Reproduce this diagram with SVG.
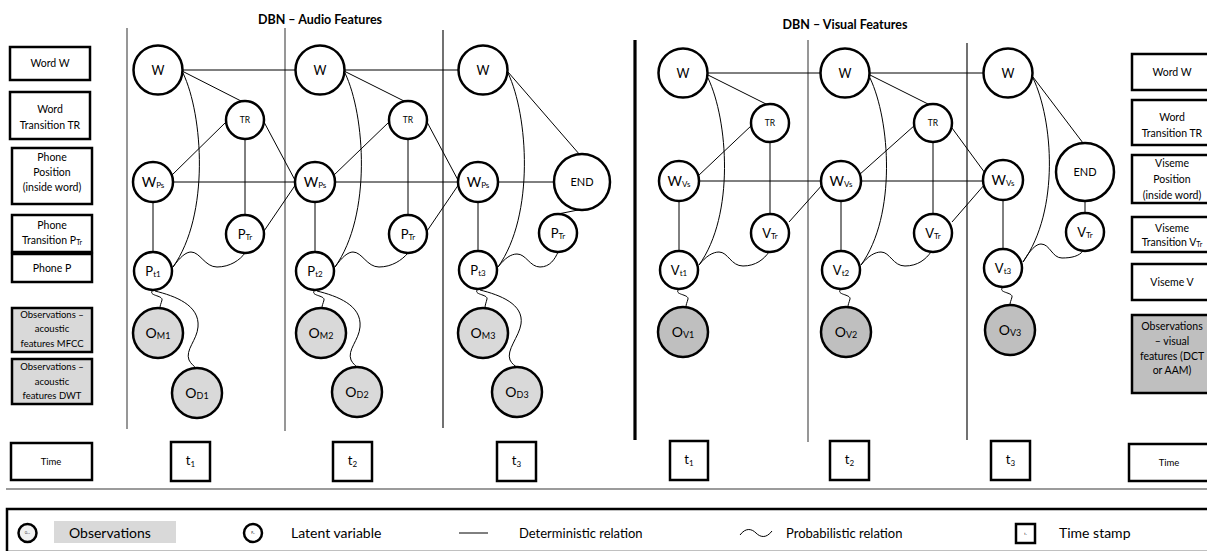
<svg xmlns="http://www.w3.org/2000/svg" width="1207" height="551" viewBox="0 0 1207 551">
  <style>
    text { font-family: Lato, "Liberation Sans", sans-serif; fill: #000; }
    .lbl { font-size: 10.5px; text-anchor: middle; }
    .lbs { font-size: 9.5px; text-anchor: middle; }
    .title { font-size: 12.5px; font-weight: bold; text-anchor: middle; }
    .box { fill: #fff; stroke: #000; stroke-width: 2.5; }
    .gbox { fill: #d9d9d9; stroke: #000; stroke-width: 2.5; }
    .gbox2 { fill: #bfbfbf; stroke: #000; stroke-width: 2.5; }
    .node { fill: #fff; stroke: #000; stroke-width: 2.5; }
    .obs { fill: #d9d9d9; stroke: #000; stroke-width: 2.5; }
    .obs2 { fill: #bfbfbf; stroke: #000; stroke-width: 2.5; }
    .nt { text-anchor: middle; }
    .w { font-size: 12.5px; }
    .tr { font-size: 8.5px; }
    .end { font-size: 11px; }
    .big { font-size: 14px; }
    .mid { font-size: 13px; }
    .sm { font-size: 8px; }
    .sub { font-size: 9px; }
    .edge { fill: none; stroke: #000; stroke-width: 1; }
    .sep { stroke: #6b6b6b; stroke-width: 1.4; }
    .sepd { stroke: #262626; stroke-width: 1.3; }
    .leg { font-size: 14px; }
    .leg2 { font-size: 13px; }
  </style>

  <!-- titles -->
  <text class="title" x="320" y="24">DBN – Audio Features</text>
  <text class="title" x="845" y="29">DBN – Visual Features</text>

  <!-- time slice separators -->
  <g id="separators">
    <line class="sep" x1="127" y1="28" x2="127" y2="429"/>
    <line class="sep" x1="285" y1="28" x2="285" y2="431"/>
    <line class="sepd" x1="443" y1="30" x2="443" y2="428"/>
    <line x1="635" y1="40" x2="635" y2="440" stroke="#000" stroke-width="3.2"/>
    <line class="sep" x1="808" y1="40" x2="808" y2="442"/>
    <line class="sepd" x1="967" y1="43" x2="967" y2="440"/>
    <line x1="6" y1="489" x2="1207" y2="489" stroke="#7a7a7a" stroke-width="1.5"/>
  </g>

  <!-- left legend boxes (audio) -->
  <g id="label-word"><rect class="box" x="10" y="47" width="80" height="33"/><text class="lbl" x="50" y="67">Word W</text></g>
  <g id="label-word-transition"><rect class="box" x="10" y="92" width="80" height="47"/><text class="lbl" x="50" y="113">Word</text><text class="lbl" x="50" y="129">Transition TR</text></g>
  <g id="label-phone-position"><rect class="box" x="12" y="148" width="80" height="56"/><text class="lbl" x="52" y="161">Phone</text><text class="lbl" x="52" y="176">Position</text><text class="lbl" x="52" y="191">(inside word)</text></g>
  <g id="label-phone-transition"><rect class="box" x="12" y="215" width="80" height="37"/><text class="lbl" x="52" y="229">Phone</text><text class="lbl" x="52" y="244">Transition P<tspan font-size="7" dy="1">Tr</tspan></text></g>
  <g id="label-phone"><rect class="box" x="12" y="254" width="80" height="28"/><text class="lbl" x="52" y="272">Phone P</text></g>
  <g id="label-mfcc"><rect class="gbox" x="12" y="308" width="80" height="44"/><text class="lbs" x="52" y="318">Observations –</text><text class="lbs" x="52" y="332">acoustic</text><text class="lbs" x="52" y="347">features MFCC</text></g>
  <g id="label-dwt"><rect class="gbox" x="12" y="359" width="80" height="45"/><text class="lbs" x="52" y="370">Observations –</text><text class="lbs" x="52" y="385">acoustic</text><text class="lbs" x="52" y="399">features DWT</text></g>
  <g id="label-time-left"><rect class="box" x="11" y="443" width="81" height="37"/><text class="lbs" x="51" y="465">Time</text></g>

  <!-- right legend boxes (visual) -->
  <g id="label-word-v"><rect class="box" x="1132" y="54" width="80" height="36"/><text class="lbl" x="1172" y="76">Word W</text></g>
  <g id="label-word-transition-v"><rect class="box" x="1132" y="100" width="80" height="45"/><text class="lbl" x="1172" y="121">Word</text><text class="lbl" x="1172" y="137">Transition TR</text></g>
  <g id="label-viseme-position"><rect class="box" x="1132" y="155" width="80" height="48"/><text class="lbl" x="1172" y="167">Viseme</text><text class="lbl" x="1172" y="183">Position</text><text class="lbl" x="1172" y="199">(inside word)</text></g>
  <g id="label-viseme-transition"><rect class="box" x="1132" y="217" width="80" height="35"/><text class="lbl" x="1172" y="232">Viseme</text><text class="lbl" x="1172" y="246">Transition V<tspan font-size="7" dy="1">Tr</tspan></text></g>
  <g id="label-viseme"><rect class="box" x="1132" y="264" width="80" height="36"/><text class="lbl" x="1172" y="286">Viseme V</text></g>
  <g id="label-visual-obs"><rect class="gbox2" x="1132" y="315" width="80" height="78"/><text class="lbl" x="1172" y="330">Observations</text><text class="lbl" x="1172" y="345">– visual</text><text class="lbl" x="1172" y="360">features (DCT</text><text class="lbl" x="1172" y="374">or AAM)</text></g>
  <g id="label-time-right"><rect class="box" x="1129" y="444" width="80" height="37"/><text class="lbs" x="1169" y="466">Time</text></g>

  <!-- connectors -->
  <g id="connectors" class="edge">
    <!-- audio: deterministic -->
    <line x1="158" y1="70" x2="483" y2="70"/>
    <line x1="153" y1="182" x2="582" y2="182"/>
    <line x1="182" y1="71" x2="243" y2="102"/>
    <line x1="344" y1="71" x2="406" y2="102"/>
    <line x1="226" y1="122" x2="171" y2="176"/>
    <line x1="389" y1="122" x2="333" y2="176"/>
    <line x1="264" y1="122" x2="296" y2="182"/>
    <line x1="427" y1="122" x2="459" y2="182"/>
    <line x1="245" y1="139" x2="245" y2="215"/>
    <line x1="408" y1="139" x2="408" y2="215"/>
    <line x1="264" y1="231" x2="296" y2="184"/>
    <line x1="427" y1="231" x2="459" y2="184"/>
    <line x1="153" y1="202" x2="153" y2="252"/>
    <line x1="315" y1="202" x2="315" y2="252"/>
    <line x1="478" y1="202" x2="478" y2="251"/>
    <line x1="508" y1="72" x2="580" y2="155"/>
    <line x1="558" y1="214" x2="578" y2="210"/>
    <!-- audio: word to phone arcs -->
    <path d="M183,73 C203,115 210,215 173,267"/>
    <path d="M345,73 C365,115 372,215 335,267"/>
    <path d="M508,73 C528,115 535,215 498,267"/>
    <!-- audio: probabilistic -->
    <path d="M173,267 C180,257 186,252 191,252 C200,252 205,267 217,267 C230,267 240,260 245,253"/>
    <path d="M335,267 C342,257 348,252 353,252 C362,252 367,267 379,267 C392,267 402,260 408,253"/>
    <path d="M498,267 C505,258 511,254 517,254 C526,254 530,267 540,267 C550,267 555,259 558,252"/>
    <path d="M153,290 C147,296 163,295 162,300 C161,304 160,305 160,308"/>
    <path d="M315,290 C309,296 325,295 324,300 C323,304 322,305 322,308"/>
    <path d="M478,289 C472,295 488,294 487,299 C486,303 485,305 485,308"/>
    <path d="M155,291 C175,296 200,305 198,327 C197,340 185,350 189,360 C191,364 194,366 196,368"/>
    <path d="M317,291 C337,296 362,305 360,327 C359,340 347,350 351,360 C353,364 356,366 357,367"/>
    <path d="M480,290 C500,295 524,304 521,324 C519,337 506,350 510,360 C512,364 515,366 517,367"/>

    <!-- visual: deterministic -->
    <line x1="683" y1="73" x2="1008" y2="73"/>
    <line x1="679" y1="181" x2="1003" y2="181"/>
    <line x1="708" y1="75" x2="768" y2="105"/>
    <line x1="870" y1="75" x2="930" y2="105"/>
    <line x1="752" y1="125" x2="698" y2="176"/>
    <line x1="915" y1="125" x2="859" y2="175"/>
    <line x1="952" y1="128" x2="985" y2="173"/>
    <line x1="770" y1="142" x2="770" y2="214"/>
    <line x1="933" y1="142" x2="933" y2="214"/>
    <line x1="789" y1="222" x2="823" y2="184"/>
    <line x1="952" y1="222" x2="985" y2="184"/>
    <line x1="679" y1="201" x2="679" y2="251"/>
    <line x1="841" y1="201" x2="841" y2="251"/>
    <line x1="1003" y1="200" x2="1003" y2="249"/>
    <line x1="1033" y1="77" x2="1083" y2="143"/>
    <line x1="1085" y1="201" x2="1085" y2="213"/>
    <!-- visual: word to viseme arcs -->
    <path d="M708,78 C728,120 735,215 699,265"/>
    <path d="M870,78 C890,120 897,215 861,265"/>
    <path d="M1033,78 C1053,120 1060,210 1023,262"/>
    <!-- visual: probabilistic -->
    <path d="M699,265 C706,256 713,252 719,252 C728,252 731,266 743,266 C756,266 764,259 769,252"/>
    <path d="M861,265 C868,256 875,252 881,252 C890,252 893,266 905,266 C918,266 926,259 931,252"/>
    <path d="M1023,262 C1030,250 1036,244 1041,244 C1050,244 1052,258 1062,258 C1072,258 1079,256 1083,251"/>
    <path d="M679,289 C673,295 689,294 688,299 C687,303 686,304 686,307"/>
    <path d="M841,289 C835,295 851,294 850,299 C849,303 848,304 848,307"/>
    <path d="M1003,287 C997,293 1013,292 1012,297 C1011,301 1010,302 1010,305"/>
  </g>

  <!-- audio nodes, slice t1 -->
  <g id="a-w1"><circle class="node" cx="158" cy="70" r="24.5"/><text class="nt w" x="158" y="74.5">W</text></g>
  <g id="a-tr1"><circle class="node" cx="245" cy="120" r="19"/><text class="nt tr" x="245" y="123">TR</text></g>
  <g id="a-ps1"><circle class="node" cx="153" cy="182" r="20"/><text class="nt big" x="153" y="186.5">W<tspan class="sm" dy="1">Ps</tspan></text></g>
  <g id="a-ptr1"><circle class="node" cx="245" cy="234" r="19"/><text class="nt mid" x="245" y="238.5">P<tspan class="sm" dy="1">Tr</tspan></text></g>
  <g id="a-pt1"><circle class="node" cx="153" cy="271" r="19"/><text class="nt mid" x="153" y="275.5">P<tspan class="sm" dy="1">t1</tspan></text></g>
  <g id="a-om1"><circle class="obs" cx="158" cy="333" r="25"/><text class="nt big" x="158" y="338">O<tspan class="sub" dy="1">M1</tspan></text></g>
  <g id="a-od1"><circle class="obs" cx="197" cy="393" r="25"/><text class="nt big" x="197" y="398">O<tspan class="sub" dy="1">D1</tspan></text></g>

  <!-- audio nodes, slice t2 -->
  <g id="a-w2"><circle class="node" cx="320" cy="70" r="24.5"/><text class="nt w" x="320" y="74.5">W</text></g>
  <g id="a-tr2"><circle class="node" cx="408" cy="120" r="19"/><text class="nt tr" x="408" y="123">TR</text></g>
  <g id="a-ps2"><circle class="node" cx="315" cy="182" r="20"/><text class="nt big" x="315" y="186.5">W<tspan class="sm" dy="1">Ps</tspan></text></g>
  <g id="a-ptr2"><circle class="node" cx="408" cy="234" r="19"/><text class="nt mid" x="408" y="238.5">P<tspan class="sm" dy="1">Tr</tspan></text></g>
  <g id="a-pt2"><circle class="node" cx="315" cy="271" r="19"/><text class="nt mid" x="315" y="275.5">P<tspan class="sm" dy="1">t2</tspan></text></g>
  <g id="a-om2"><circle class="obs" cx="321" cy="333" r="25"/><text class="nt big" x="321" y="338">O<tspan class="sub" dy="1">M2</tspan></text></g>
  <g id="a-od2"><circle class="obs" cx="357" cy="392" r="25"/><text class="nt big" x="357" y="397">O<tspan class="sub" dy="1">D2</tspan></text></g>

  <!-- audio nodes, slice t3 -->
  <g id="a-w3"><circle class="node" cx="483" cy="70" r="24.5"/><text class="nt w" x="483" y="74.5">W</text></g>
  <g id="a-ps3"><circle class="node" cx="478" cy="182" r="20"/><text class="nt big" x="478" y="186.5">W<tspan class="sm" dy="1">Ps</tspan></text></g>
  <g id="a-end"><circle class="node" cx="582" cy="182" r="28"/><text class="nt end" x="582" y="186">END</text></g>
  <g id="a-ptr3"><circle class="node" cx="558" cy="233" r="19"/><text class="nt mid" x="558" y="237.5">P<tspan class="sm" dy="1">Tr</tspan></text></g>
  <g id="a-pt3"><circle class="node" cx="478" cy="270" r="19"/><text class="nt mid" x="478" y="274.5">P<tspan class="sm" dy="1">t3</tspan></text></g>
  <g id="a-om3"><circle class="obs" cx="483" cy="333" r="25"/><text class="nt big" x="483" y="338">O<tspan class="sub" dy="1">M3</tspan></text></g>
  <g id="a-od3"><circle class="obs" cx="517" cy="392" r="25"/><text class="nt big" x="517" y="397">O<tspan class="sub" dy="1">D3</tspan></text></g>

  <!-- visual nodes, slice t1 -->
  <g id="v-w1"><circle class="node" cx="683" cy="73" r="24.5"/><text class="nt w" x="683" y="77.5">W</text></g>
  <g id="v-tr1"><circle class="node" cx="770" cy="123" r="19"/><text class="nt tr" x="770" y="126">TR</text></g>
  <g id="v-vs1"><circle class="node" cx="679" cy="181" r="20"/><text class="nt big" x="679" y="185.5">W<tspan class="sm" dy="1">Vs</tspan></text></g>
  <g id="v-vtr1"><circle class="node" cx="770" cy="233" r="19"/><text class="nt mid" x="770" y="237.5">V<tspan class="sm" dy="1">Tr</tspan></text></g>
  <g id="v-vt1"><circle class="node" cx="679" cy="270" r="19"/><text class="nt mid" x="679" y="274.5">V<tspan class="sm" dy="1">t1</tspan></text></g>
  <g id="v-ov1"><circle class="obs2" cx="683" cy="332" r="25"/><text class="nt big" x="683" y="337">O<tspan class="sub" dy="1">V1</tspan></text></g>

  <!-- visual nodes, slice t2 -->
  <g id="v-w2"><circle class="node" cx="845" cy="73" r="24.5"/><text class="nt w" x="845" y="77.5">W</text></g>
  <g id="v-tr2"><circle class="node" cx="933" cy="123" r="19"/><text class="nt tr" x="933" y="126">TR</text></g>
  <g id="v-vs2"><circle class="node" cx="841" cy="181" r="20"/><text class="nt big" x="841" y="185.5">W<tspan class="sm" dy="1">Vs</tspan></text></g>
  <g id="v-vtr2"><circle class="node" cx="933" cy="233" r="19"/><text class="nt mid" x="933" y="237.5">V<tspan class="sm" dy="1">Tr</tspan></text></g>
  <g id="v-vt2"><circle class="node" cx="841" cy="270" r="19"/><text class="nt mid" x="841" y="274.5">V<tspan class="sm" dy="1">t2</tspan></text></g>
  <g id="v-ov2"><circle class="obs2" cx="846" cy="332" r="25"/><text class="nt big" x="846" y="337">O<tspan class="sub" dy="1">V2</tspan></text></g>

  <!-- visual nodes, slice t3 -->
  <g id="v-w3"><circle class="node" cx="1008" cy="73" r="24.5"/><text class="nt w" x="1008" y="77.5">W</text></g>
  <g id="v-vs3"><circle class="node" cx="1003" cy="180" r="20"/><text class="nt big" x="1003" y="184.5">W<tspan class="sm" dy="1">Vs</tspan></text></g>
  <g id="v-end"><circle class="node" cx="1085" cy="172" r="29"/><text class="nt end" x="1085" y="176">END</text></g>
  <g id="v-vtr3"><circle class="node" cx="1085" cy="232" r="19"/><text class="nt mid" x="1085" y="236.5">V<tspan class="sm" dy="1">Tr</tspan></text></g>
  <g id="v-vt3"><circle class="node" cx="1003" cy="268" r="19"/><text class="nt mid" x="1003" y="272.5">V<tspan class="sm" dy="1">t3</tspan></text></g>
  <g id="v-ov3"><circle class="obs2" cx="1010" cy="330" r="25"/><text class="nt big" x="1010" y="335">O<tspan class="sub" dy="1">V3</tspan></text></g>

  <!-- time stamps -->
  <g id="a-t1"><rect class="box" x="171" y="442" width="39" height="39"/><text class="nt mid" x="190.5" y="465">t<tspan class="sm" dy="2">1</tspan></text></g>
  <g id="a-t2"><rect class="box" x="333" y="442" width="39" height="39"/><text class="nt mid" x="352.5" y="465">t<tspan class="sm" dy="2">2</tspan></text></g>
  <g id="a-t3"><rect class="box" x="497" y="442" width="39" height="39"/><text class="nt mid" x="516.5" y="465">t<tspan class="sm" dy="2">3</tspan></text></g>
  <g id="v-t1"><rect class="box" x="670" y="441" width="38" height="39"/><text class="nt mid" x="689" y="464">t<tspan class="sm" dy="2">1</tspan></text></g>
  <g id="v-t2"><rect class="box" x="830" y="441" width="39" height="39"/><text class="nt mid" x="849.5" y="464">t<tspan class="sm" dy="2">2</tspan></text></g>
  <g id="v-t3"><rect class="box" x="991" y="441" width="39" height="39"/><text class="nt mid" x="1010.5" y="464">t<tspan class="sm" dy="2">3</tspan></text></g>

  <!-- key -->
  <g id="key">
    <rect x="7" y="509" width="1215" height="43" fill="#fff" stroke="#000" stroke-width="2.5"/>
    <circle cx="27.5" cy="533" r="9" fill="#f2f2f2" stroke="#000" stroke-width="2.5"/>
    <text x="27.5" y="534" font-size="3" text-anchor="middle" fill="#666">O<tspan font-size="2">M1</tspan></text>
    <rect x="54" y="521" width="122" height="22" fill="#d9d9d9"/>
    <text class="leg" x="69" y="538">Observations</text>
    <circle cx="253" cy="533" r="9" fill="#fff" stroke="#000" stroke-width="2.5"/>
    <text x="253" y="534" font-size="3" text-anchor="middle" fill="#666">P<tspan font-size="2">t1</tspan></text>
    <text class="leg" x="291" y="538">Latent variable</text>
    <line x1="459" y1="533" x2="488" y2="533" stroke="#000" stroke-width="1"/>
    <text class="leg2" x="519" y="538">Deterministic relation</text>
    <path d="M740,535 C746,527 752,529 756,533 C760,537 766,539 772,531" fill="none" stroke="#000" stroke-width="1"/>
    <text class="leg2" x="786" y="538">Probabilistic relation</text>
    <rect x="1016" y="524" width="19" height="19" fill="#fff" stroke="#000" stroke-width="2.5"/>
    <text x="1025.5" y="535" font-size="3.5" text-anchor="middle" fill="#666">t<tspan font-size="2.5">1</tspan></text>
    <text class="leg" x="1059" y="538">Time stamp</text>
  </g>
</svg>
